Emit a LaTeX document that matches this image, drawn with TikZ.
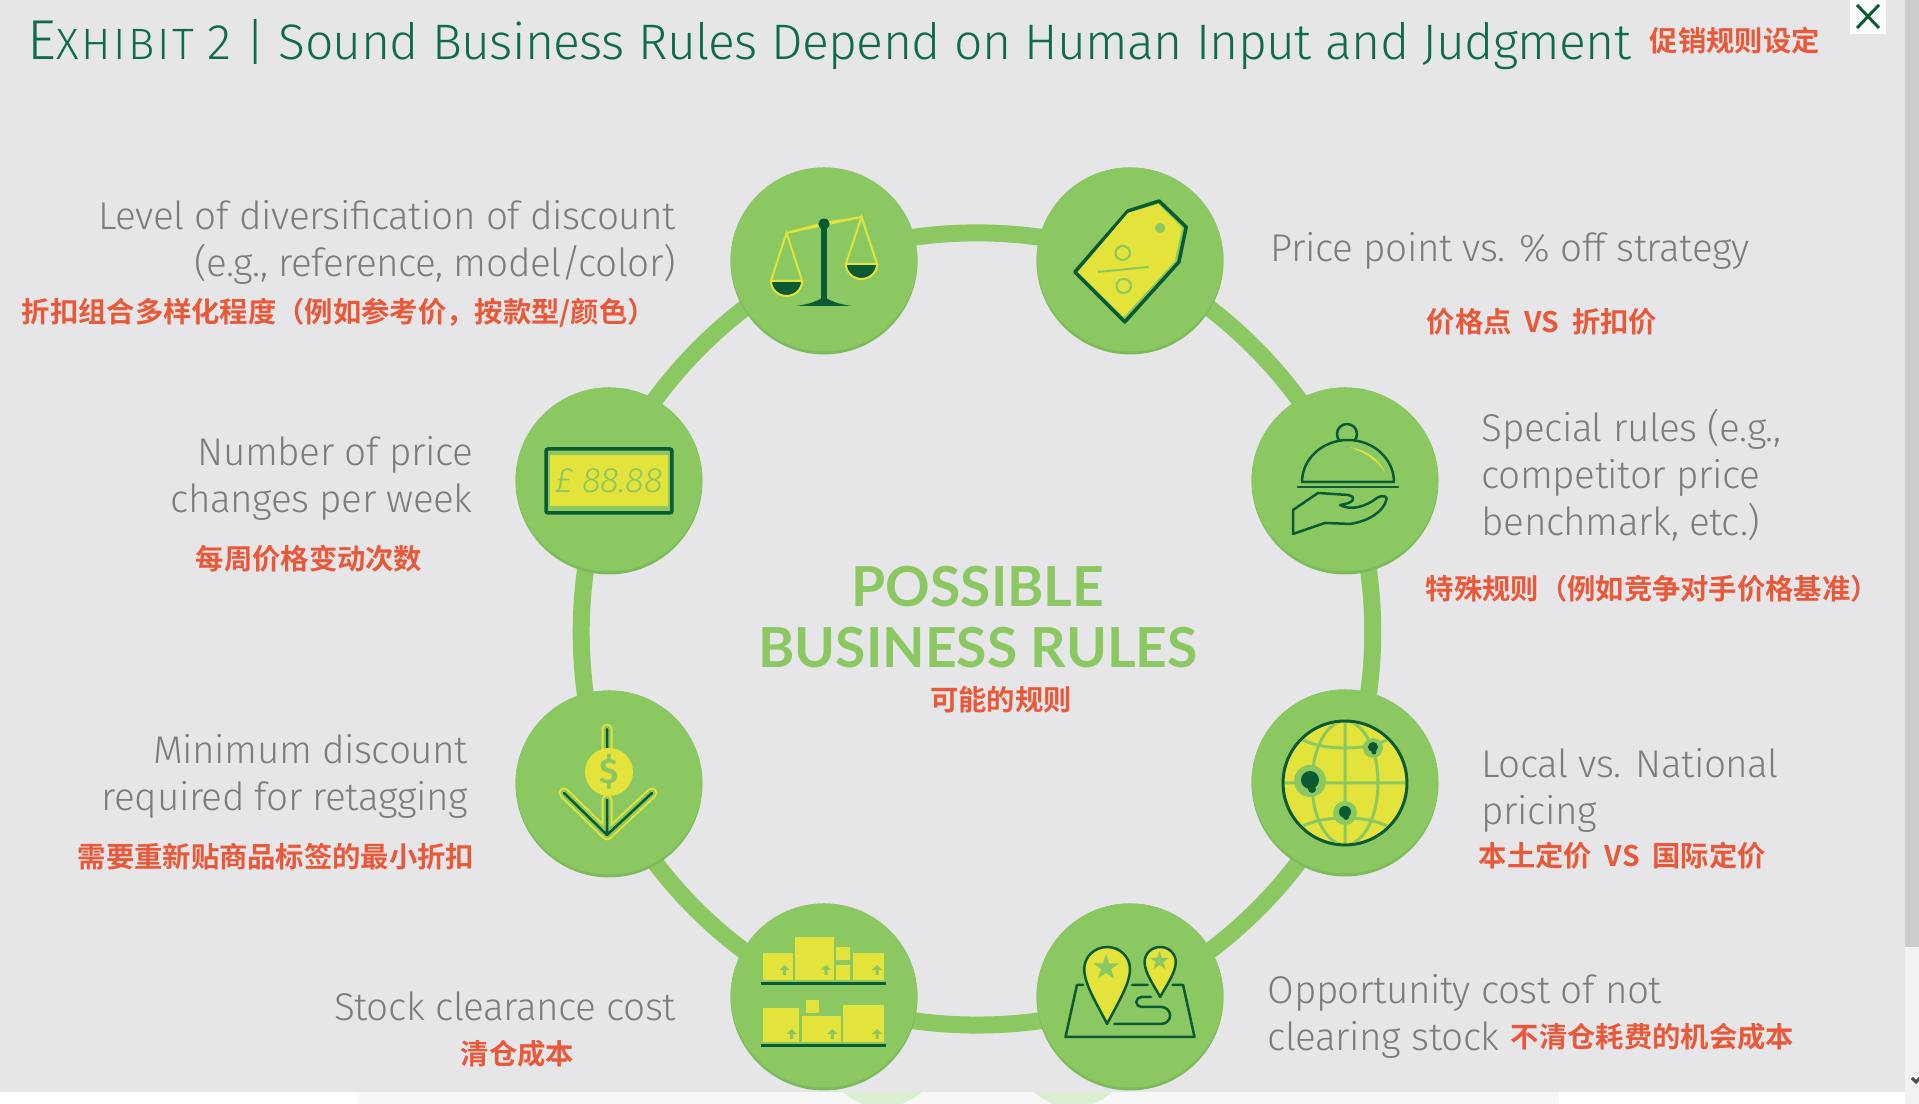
\documentclass[tikz,border=0pt]{standalone}
\usepackage{fontspec}
\setmainfont{Fira Sans}[UprightFont=* Light,BoldFont=* SemiBold,LetterSpace=-1.2]
\newfontfamily\cjkfont{Noto Sans CJK SC}[UprightFont=* Bold]
\newfontfamily\hubfont{Lato}[UprightFont=* Bold]
\usetikzlibrary{backgrounds}
\definecolor{pagegray}{HTML}{E6E6E8}
\definecolor{leaf}{HTML}{8BC862}
\definecolor{leafdark}{HTML}{7CBA5B}
\definecolor{lime}{HTML}{E3E33B}
\definecolor{pine}{HTML}{0A5A33}
\definecolor{titlegreen}{HTML}{0F6B50}
\definecolor{notegray}{HTML}{7C7C7E}
\definecolor{redzh}{HTML}{E8593A}
\tikzset{
  bubble/.style={circle, inner sep=0pt, minimum size=1.87cm, fill=leafdark, path picture={\fill[leaf] ([yshift=.03cm]path picture bounding box.center) circle (.935);}},
  ringlink/.style={draw=leaf, line width=.17cm},
  enote/.style={text=notegray, font=\fontsize{11}{13.4}\selectfont, inner sep=0pt},
  zhnote/.style={text=redzh, font=\fontsize{8.06}{10}\cjkfont, inner sep=0pt},
  thinline/.style={draw=pine, line width=.025cm, line join=round, line cap=round}
}
\begin{document}
\begin{tikzpicture}
  \useasboundingbox (0,0) rectangle (19.19,11.04);

  % Titel
  \node[anchor=west, inner sep=0pt, text=titlegreen, font=\fontsize{14.2}{15}\selectfont] (title) at (.27,10.59)
    {{\fontsize{16}{15}\selectfont E}{\fontsize{12.5}{15}\selectfont\addfontfeature{LetterSpace=6}XHIBIT} 2 | Sound Business Rules Depend on Human Input and Judgment};
  \node[zhnote, anchor=west] (titlezh) at (16.49,10.63) {促销规则设定};

  % Kreise
  \node[bubble] (scalenode) at (8.24,8.43) {};
  \node[bubble] (tagnode) at (11.30,8.43) {};
  \node[bubble] (servenode) at (13.45,6.23) {};
  \node[bubble] (globenode) at (13.45,3.21) {};
  \node[bubble] (mapnode) at (11.30,1.07) {};
  \node[bubble] (stocknode) at (8.24,1.07) {};
  \node[bubble] (retagnode) at (6.09,3.20) {};
  \node[bubble] (pricenode) at (6.09,6.23) {};
  \begin{scope}[on background layer]
    % Seite
    \fill[white] (0,0) rectangle (19.19,11.04);
    \fill[gray!6] (3.58,0) rectangle (15.59,.12);
    \fill[pagegray] (0,.12) rectangle (19.05,11.04);
    \fill[leaf!30] (8.43,.12) .. controls (8.5,.06) .. (8.62,0) -- (9.02,0) .. controls (9.14,.06) .. (9.22,.12) -- cycle;
    \fill[leaf!30] (10.34,.12) .. controls (10.41,.06) .. (10.53,0) -- (10.93,0) .. controls (11.05,.06) .. (11.12,.12) -- cycle;
    \fill[gray!10] (19.05,0) rectangle (19.19,11.04);
    \fill[gray!40] (19.05,1.57) rectangle (19.19,11.04);
    \draw[black!70, line width=.03cm] (19.12,.26) -- (19.16,.22) -- (19.2,.26);
    % Schliessen
    \fill[white!90!pagegray] (18.5,10.7) rectangle (18.86,11.04);
    \draw[pine, line width=.03cm] (18.57,10.99) -- (18.79,10.76) (18.79,10.99) -- (18.57,10.76);
    % Ring
    \foreach \a/\b in {scalenode/tagnode, tagnode/servenode, servenode/globenode, globenode/mapnode, mapnode/stocknode, stocknode/retagnode, retagnode/pricenode, pricenode/scalenode}
      \draw[ringlink] (\a.center) to[bend left=22.5, looseness=.82] (\b.center);
  \end{scope}

  % Mitte
  \node[inner sep=0pt, align=center, text=leaf, font=\fontsize{15.7}{17.3}\hubfont] (hub) at (9.78,4.87) {POSSIBLE\\BUSINESS RULES};
  \node[zhnote] (hubzh) at (10.01,4.04) {可能的规则};

  % Waage
  \begin{scope}[shift={(scalenode)}, x=.0104cm, y=.01cm]
    \draw[lime, line width=.02cm] (-36,28) -- (36,44) (-36,28) -- (0,38) -- (36,44);
    \draw[lime, line width=.02cm, fill=pine] (-51,-20) -- (-21,-20) arc (0:-180:15) -- cycle;
    \draw[lime, line width=.02cm] (-51,-20) -- (-36,28) -- (-21,-20);
    \draw[lime, line width=.02cm, fill=pine] (21,-3) -- (51,-3) arc (0:-180:15) -- cycle;
    \draw[lime, line width=.02cm] (21,-3) -- (36,44) -- (51,-3);
    \draw[pine, line width=.06cm] (0,35) -- (0,-44);
    \fill[pine] (0,37) circle (5.5);
    \fill[pine] (-26,-45) .. controls (-8,-42) and (-4,-38) .. (0,-36) .. controls (4,-38) and (8,-42) .. (26,-45) -- cycle;
  \end{scope}

  % Etikett
  \begin{scope}[shift={(tagnode)}, x=.0104cm, y=.01cm]
    \draw[fill=leaf, draw=pine, line width=.035cm, line join=round] (28,60) -- (54,34) -- (47,-1) -- (-5,-61) -- (-53,-11) -- (-2,50) -- cycle;
    \fill[lime] (27,57) -- (50,33) -- (43,0) -- (-6,-56) -- (-50,-11) -- (-2,48) -- cycle;
    \fill[leaf] (29,33) circle (5);
    \draw[leaf, line width=.02cm] (-7,8) circle (7) (-6,-25) circle (7) (-31,-11) -- (18,-6);
  \end{scope}

  % Preisanzeige
  \begin{scope}[shift={(pricenode)}, x=.01cm, y=.01cm]
    \draw[fill=leaf, draw=pine, line width=.035cm, rounded corners=.02cm] (-63,-32) rectangle (63,32);
    \fill[lime] (-59,-25) rectangle (59,26);
  \end{scope}
  \node[inner sep=0pt, text=leaf, font=\fontsize{10}{12}\selectfont\itshape] (pricetag) at (pricenode) {£ 88.88};

  % Servierglocke
  \begin{scope}[shift={(servenode)}, x=.01cm, y=.01cm]
    \draw[thinline] (2,47) circle (10);
    \draw[thinline, fill=leaf] (-43,-1) arc (180:0:46 and 42) -- cycle;
    \fill[lime] (5,34) .. controls (24,30) and (36,20) .. (40,8) .. controls (34,20) and (20,28) .. cycle;
    \draw[thinline] (-47,-6) -- (53,-6);
    \draw[thinline] (-52,-53) -- (-52,-29) -- (-27,-12) -- (3,-14) .. controls (12,-16) and (10,-22) .. (-5,-24)
      .. controls (6,-30) and (20,-26) .. (32,-17) .. controls (38,-13) and (44,-16) .. (41,-20)
      .. controls (38,-30) and (25,-40) .. (5,-43) -- (-20,-42) -- cycle;
  \end{scope}

  % Globus
  \begin{scope}[shift={(globenode)}, x=.01cm, y=.01cm]
    \draw[fill=lime, draw=pine, line width=.03cm] (0,0) circle (62);
    \begin{scope}
      \clip (0,0) circle (60);
      \draw[leaf, line width=.03cm] (0,62) -- (0,-62) (-62,0) -- (62,0) (0,0) ellipse (33 and 62);
      \draw[leaf, line width=.03cm] (-44,44) .. controls (-22,32) and (22,32) .. (44,44);
      \draw[leaf, line width=.03cm] (-44,-44) .. controls (-22,-32) and (22,-32) .. (44,-44);
    \end{scope}
    \fill[leaf] (-35,2) circle (16) (28,35) circle (10) (0,-30) circle (12);
    \fill[pine] (-35,3) circle (9) (-33,-6) circle (4) (28,36) circle (5) (29,31) circle (2.5) (0,-29) circle (6) (1,-34) circle (3);
  \end{scope}

  % Karte
  \begin{scope}[shift={(mapnode)}, x=.0104cm, y=.01cm]
    \draw[thinline] (-45,12) -- (-51,12) -- (-62,-40) -- (62,-40) -- (51,12) -- (41,12) (2,12) -- (17,12);
    \draw[thinline] (20,0) -- (11,0) arc (90:270:5) -- (30,-10) arc (90:-90:8.5) -- (-15,-27);
    \draw[thinline, fill=lime] (-22,-27) .. controls (-30,-10) and (-44,12) .. (-44,28) arc (180:0:22) .. controls (0,12) and (-14,-10) .. cycle;
    \draw[thinline, fill=lime] (29,0) .. controls (24,10) and (14,24) .. (14,35) arc (180:0:15) .. controls (44,24) and (34,10) .. cycle;
    \node[text=leaf, inner sep=0pt, font=\fontsize{8}{8}\cjkfont] (starbig) at (-23,30) {★};
    \node[text=leaf, inner sep=0pt, font=\fontsize{6}{6}\cjkfont] (starsmall) at (29,36) {★};
  \end{scope}

  % Kartons
  \begin{scope}[shift={(stocknode)}, x=.0104cm, y=.01cm]
    \foreach \ax/\ay/\bx/\by in {-59/17/-30/44, -28/17/10/60, 12/32/25/17, 12/37/25/50, 28/17/58/44, -59/-45/-24/-11, -21/-45/16/-19, 18/-45/58/-8, -17/-16/-5/-3}
      \fill[lime] (\ax,\ay) rectangle (\bx,\by);
    \foreach \ax/\ay in {-38/27, 2/27, 51/27, -31/-37, 8/-37, 51/-37}
      \fill[leaf] (\ax,\ay+5) -- (\ax+5,\ay) -- (\ax+1.5,\ay) -- (\ax+1.5,\ay-5) -- (\ax-1.5,\ay-5) -- (\ax-1.5,\ay) -- (\ax-5,\ay) -- cycle;
    \draw[pine, line width=.03cm] (-61,13) -- (60,13) (-61,-49) -- (60,-49);
  \end{scope}

  % Muenze mit Pfeil
  \begin{scope}[shift={(retagnode)}, x=.01cm, y=.01cm]
    \draw[lime, line width=.11cm, line cap=round, line join=round] (-45,-9) -- (-2,-51) -- (43,-9) (-2,-16) -- (-2,-51) (-2,36) -- (-2,55);
    \draw[leaf, line width=.07cm, line cap=round, line join=round] (-45,-9) -- (-2,-51) -- (43,-9) (-2,-16) -- (-2,-51) (-2,36) -- (-2,55);
    \draw[pine, line width=.025cm, line cap=round, line join=round] (-45,-9) -- (-2,-51) -- (43,-9) (-2,-16) -- (-2,-51) (-2,36) -- (-2,55);
    \fill[lime] (0,12) circle (24);
    \node[text=leaf, inner sep=0pt, font=\fontsize{10}{10}\selectfont\bfseries] (dollar) at (0,12) {\$};
  \end{scope}

  % Beschriftung links
  \node[enote, align=right, anchor=east] (scaletext) at (6.765,8.62) {Level of diversification of discount\\(e.g., reference, model/color)};
  \node[zhnote, anchor=west] (scalezh) at (.21,7.91) {折扣组合多样化程度（例如参考价，按款型/颜色）};
  \node[enote, align=right, anchor=east] (pricetext) at (4.735,6.26) {Number of price\\changes per week};
  \node[zhnote, anchor=west] (pricezh) at (1.95,5.45) {每周价格变动次数};
  \node[enote, align=right, anchor=east] (retagtext) at (4.685,3.28) {Minimum discount\\required for retagging};
  \node[zhnote, anchor=west] (retagzh) at (.77,2.47) {需要重新贴商品标签的最小折扣};
  \node[enote, align=right, anchor=east] (stocktext) at (6.765,.98) {Stock clearance cost};
  \node[zhnote, anchor=west] (stockzh) at (4.6,.5) {清仓成本};

  % Beschriftung rechts
  \node[enote, anchor=west] (tagtext) at (12.7,8.53) {Price point vs. \% off strategy};
  \node[zhnote, anchor=west] (tagzh) at (14.26,7.82) {价格点~~VS~~折扣价};
  \node[enote, align=left, anchor=west] (servetext) at (14.81,6.29) {Special rules (e.g.,\\competitor price\\benchmark, etc.)};
  \node[zhnote, anchor=west] (servezh) at (14.25,5.15) {特殊规则（例如竞争对手价格基准）};
  \node[enote, align=left, anchor=west] (globetext) at (14.81,3.14) {Local vs. National\\pricing};
  \node[zhnote, anchor=west] (globezh) at (14.78,2.48) {本土定价~~VS~~国际定价};
  \node[enote, align=left, anchor=west] (maptext) at (12.67,.875) {Opportunity cost of not\\clearing stock};
  \node[zhnote, anchor=west] (mapzh) at (15.1,.67) {不清仓耗费的机会成本};
\end{tikzpicture}
\end{document}
